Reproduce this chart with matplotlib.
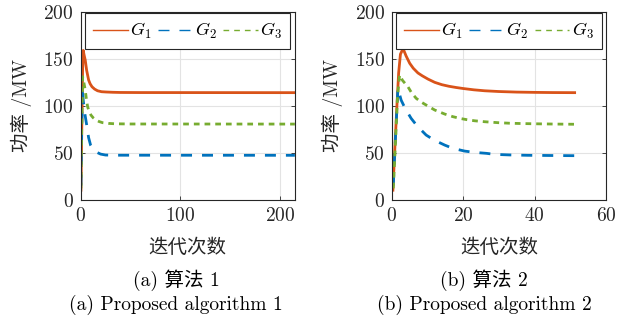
#!/usr/bin/env python3
"""Generator output power vs. iteration for two algorithms (side by side)."""
import matplotlib
matplotlib.use('Agg')
import matplotlib.pyplot as plt

# algorithm 1 (left panel)
a1_g1_x = [0.3, 1.2, 2.0, 2.6, 3.5, 4.6, 6.0, 8.0, 9.5, 11.4, 14, 17, 21, 25.5, 32, 40, 60, 215]
a1_g1_y = [10, 80, 140, 159, 154, 148.8, 138, 127.5, 123.5, 120.3, 117.8, 116, 115, 114.7, 114.4, 114.2, 114.1, 114.0]
a1_g2_x = [0.3, 1.0, 1.8, 2.6, 4.0, 6.0, 8.0, 10, 13, 16, 20, 25, 35, 215]
a1_g2_y = [15, 70, 120, 106, 93, 80, 66, 58, 53, 50.5, 48.5, 47.5, 47.3, 47.2]
a1_g3_x = [0.3, 1.0, 2.0, 3.2, 4.6, 5.8, 7.0, 8.5, 10.4, 12.5, 15.4, 18.5, 22, 28, 35, 50, 215]
a1_g3_y = [12, 70, 131, 125, 116.8, 107, 99, 94, 90, 87.3, 84.8, 83.2, 82, 81.2, 80.8, 80.6, 80.5]

# algorithm 2 (right panel)
a2_g1_x = [0.3, 0.9, 1.4, 1.9, 2.4, 2.9, 3.3, 4.0, 5.0, 6.0, 7.3, 8.5, 10.1, 12, 14, 16, 18, 20, 23, 26, 30, 35, 40, 45, 51.2]
a2_g1_y = [10, 60, 99, 135, 155, 159, 159.5, 153, 145.3, 140, 135, 132, 128.5, 125, 122.5, 120.8, 119.5, 118.4, 117, 116, 115.2, 114.6, 114.3, 114.1, 114.0]
a2_g2_x = [0.4, 1.0, 1.7, 2.6, 3.75, 5.4, 7.1, 9.6, 11.8, 14.8, 17.1, 20.4, 23.2, 26.5, 28.8, 33, 38, 44, 51.2]
a2_g2_y = [15, 65, 118.6, 106, 97, 86.6, 78.4, 68.8, 63.5, 58.1, 54.6, 51.7, 50.3, 49.3, 48.2, 47.6, 47.2, 47.0, 46.8]
a2_g3_x = [0.4, 1.0, 1.6, 2.16, 3.0, 4.5, 5.5, 6.8, 8.2, 9.6, 12, 14.8, 17, 19, 21, 23.2, 26, 29.7, 33, 37, 42, 46, 51.2]
a2_g3_y = [12, 60, 110, 132.8, 127, 120.3, 114, 108, 104, 100.8, 95.5, 91.2, 88.5, 86.6, 85.2, 84, 83, 82, 81.4, 81, 80.7, 80.5, 80.3]

labels = [r'$G_1$', r'$G_2$', r'$G_3$']
x_limits = [(0, 215), (0, 60)]
x_ticks = [[0, 100, 200], [0, 20, 40, 60]]
y_ticks = [0, 50, 100, 150, 200]
captions_cn = ['(a) 算法 1', '(b) 算法 2']
captions_en = ['(a) Proposed algorithm 1', '(b) Proposed algorithm 2']

plt.rcParams['font.family'] = ['cmr10', 'Noto Sans CJK SC']
plt.rcParams['mathtext.fontset'] = 'cm'
plt.rcParams['axes.formatter.use_mathtext'] = True
plt.rcParams['lines.scale_dashes'] = False

colors = ['#D95319', '#0072BD', '#77AC30']
styles = ['-', (0, (7.9, 7.2)), (0, (4.1, 3.6))]
dark = '#262626'

fig = plt.figure(figsize=(6.3, 3.24), dpi=100)
axes = [fig.add_axes([0.128, 0.384, 0.340, 0.579]),
        fig.add_axes([0.622, 0.384, 0.340, 0.579])]

series = [
    [(a1_g1_x, a1_g1_y), (a1_g2_x, a1_g2_y), (a1_g3_x, a1_g3_y)],
    [(a2_g1_x, a2_g1_y), (a2_g2_x, a2_g2_y), (a2_g3_x, a2_g3_y)],
]
caption_x = [176 / 630, 484 / 630]

for i, ax in enumerate(axes):
    for (xs, ys), c, ls, lab in zip(series[i], colors, styles, labels):
        ax.plot(xs, ys, color=c, linestyle=ls, lw=2.0, label=lab)
    ax.set_xlim(*x_limits[i])
    ax.set_ylim(0, 200)
    ax.set_xticks(x_ticks[i])
    ax.set_yticks(y_ticks)
    ax.grid(True, color='#e3e3e3', lw=0.8)
    ax.set_axisbelow(True)
    ax.tick_params(direction='in', top=True, right=True, length=3, width=0.6,
                   colors=dark, labelsize=14, pad=5)
    for sp in ax.spines.values():
        sp.set_color(dark)
        sp.set_linewidth(0.8)
    ax.set_xlabel('迭代次数', fontsize=14, color=dark, labelpad=10)
    ax.set_ylabel('功率 /MW', fontsize=14, color=dark, labelpad=8)

    leg = ax.legend(loc='upper center', bbox_to_anchor=(0.5, 1.0), ncol=3,
                    fontsize=13, handlelength=1.9, handletextpad=0.15,
                    columnspacing=0.35, borderpad=0.45, borderaxespad=0.05,
                    fancybox=False, framealpha=1)
    leg.get_frame().set_edgecolor(dark)
    leg.get_frame().set_linewidth(0.8)
    for ln in leg.get_lines():
        ln.set_linewidth(1.0)

    fig.text(caption_x[i], (324 - 280) / 324, captions_cn[i], fontsize=14,
             ha='center', va='center')
    fig.text(caption_x[i], (324 - 305) / 324, captions_en[i], fontsize=14,
             ha='center', va='center')

fig.savefig('out.png', dpi=100)
